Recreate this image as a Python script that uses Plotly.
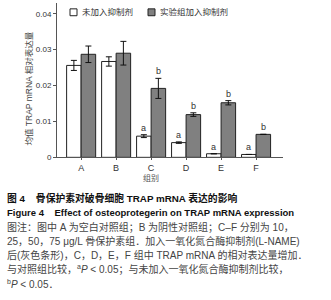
import plotly.graph_objects as go

categories = ["A", "B", "C", "D", "E", "F"]
no_inhib = [0.0256, 0.0267, 0.0059, 0.0041, 0.0010, 0.0008]
no_inhib_err = [0.0014, 0.0013, 0.0004, 0.0002, 0.0, 0.0]
with_inhib = [0.0287, 0.0290, 0.0192, 0.0119, 0.0152, 0.0064]
with_inhib_err = [0.0023, 0.0033, 0.0028, 0.0005, 0.0006, 0.0]
no_inhib_sig = ["", "", "a", "a", "a", "a"]
with_inhib_sig = ["", "", "b", "b", "b", "b"]
legend_names = ["未加入抑制剂", "实验组加入抑制剂"]
y_ticks = [0, 0.01, 0.02, 0.03, 0.04]
y_ticklabels = ["0", "0.01", "0.02", "0.03", "0.04"]

W, H = 331, 300
FONT = "Liberation Sans, Noto Sans CJK SC, sans-serif"
GREY = "#808080"

fig = go.Figure()
fig.add_trace(go.Bar(
    x=categories, y=no_inhib, name=legend_names[0],
    marker=dict(color="white", line=dict(color="#222", width=1)),
    error_y=dict(type="data", array=no_inhib_err, color="#111", thickness=1, width=3),
    offsetgroup="0", hoverinfo="skip",
))
fig.add_trace(go.Bar(
    x=categories, y=with_inhib, name=legend_names[1],
    marker=dict(color=GREY, line=dict(color="#222", width=1)),
    error_y=dict(type="data", array=with_inhib_err, color="#111", thickness=1, width=3),
    offsetgroup="1", hoverinfo="skip",
))

# significance letters above bars
bar_w = 0.415
for vals, errs, sig, off in [(no_inhib, no_inhib_err, no_inhib_sig, -bar_w / 2),
                              (with_inhib, with_inhib_err, with_inhib_sig, bar_w / 2)]:
    for i, (v, e, s) in enumerate(zip(vals, errs, sig)):
        if s:
            fig.add_annotation(x=i + off, y=v + e, xref="x", yref="y", text=s,
                               showarrow=False, xanchor="center", yanchor="bottom",
                               font=dict(size=9, color="#333", family=FONT))

x0, x1 = 57, 283
y_bot, y_top = 160, 3
fig.update_layout(
    width=W, height=H, margin=dict(l=0, r=0, t=0, b=0),
    paper_bgcolor="white", plot_bgcolor="white",
    barmode="group", bargap=0.17, bargroupgap=0,
    showlegend=False, hovermode=False,
    font=dict(family=FONT, size=8, color="#333"),
    xaxis=dict(domain=[x0 / W, x1 / W], range=[-0.69, 5.77],
               showline=True, linecolor="#555", linewidth=1,
               ticks="outside", ticklen=2, tickcolor="#555",
               tickfont=dict(size=9, color="#333"), showgrid=False, zeroline=False),
    yaxis=dict(domain=[1 - y_bot / H, 1 - y_top / H], range=[0, 0.043],
               tickvals=y_ticks, ticktext=y_ticklabels,
               showline=True, linecolor="#555", linewidth=1,
               ticks="outside", ticklen=3, tickcolor="#555",
               tickfont=dict(size=8, color="#333"), showgrid=False, zeroline=False),
)

# axis titles
fig.add_annotation(x=21 / W, y=1 - 90 / H, xref="paper", yref="paper",
                   xanchor="left", yanchor="middle",
                   text="均值 TRAP mRNA 相对表达量", textangle=-90, showarrow=False,
                   font=dict(size=8.5, color="#444", family=FONT))
fig.add_annotation(x=151 / W, y=1 - 181 / H, xref="paper", yref="paper",
                   xanchor="center", yanchor="middle",
                   text="组别", showarrow=False, font=dict(size=8, color="#555", family=FONT))

# legend
fig.add_shape(type="rect", xref="paper", yref="paper",
              x0=70 / W, x1=77 / W, y0=1 - 16 / H, y1=1 - 9 / H,
              fillcolor="white", line=dict(color="#222", width=1))
fig.add_annotation(x=80 / W, y=1 - 12.5 / H, xref="paper", yref="paper",
                   xanchor="left", yanchor="middle",
                   text=legend_names[0], showarrow=False,
                   font=dict(size=8.5, color="#333", family=FONT))
fig.add_shape(type="rect", xref="paper", yref="paper",
              x0=148 / W, x1=155 / W, y0=1 - 16 / H, y1=1 - 9 / H,
              fillcolor=GREY, line=dict(color="#222", width=1))
fig.add_annotation(x=158 / W, y=1 - 12.5 / H, xref="paper", yref="paper",
                   xanchor="left", yanchor="middle",
                   text=legend_names[1], showarrow=False,
                   font=dict(size=8.5, color="#333", family=FONT))

# caption
caption = [
    ("<b>图 4    骨保护素对破骨细胞 TRAP mRNA 表达的影响</b>", 201, "#111", 9.8),
    ("<b>Figure 4    Effect of osteoprotegerin on TRAP mRNA expression</b>", 216, "#111", 9.5),
    ("图注：图中 A 为空白对照组；B 为阴性对照组；C–F 分别为 10，", 230.5, "#444", 10),
    ("25，50，75 μg/L 骨保护素组．加入一氧化氮合酶抑制剂(L-NAME)", 245, "#444", 10),
    ("后(灰色条形)，C，D，E，F 组中 TRAP mRNA 的相对表达量增加．", 259.5, "#444", 10),
    ("与对照组比较，<sup>a</sup><i>P</i> < 0.05；与未加入一氧化氮合酶抑制剂比较，", 274, "#444", 10),
    ("<sup>b</sup><i>P</i> < 0.05．", 288.5, "#444", 10),
]
for txt, yy, col, fs in caption:
    fig.add_annotation(x=5 / W, y=1 - yy / H, xref="paper", yref="paper",
                       xanchor="left", yanchor="middle", text=txt, showarrow=False,
                       font=dict(size=fs, color=col, family=FONT))

fig.write_html("out.html", config={"displayModeBar": False},
               post_script="document.body.style.margin='0';")
